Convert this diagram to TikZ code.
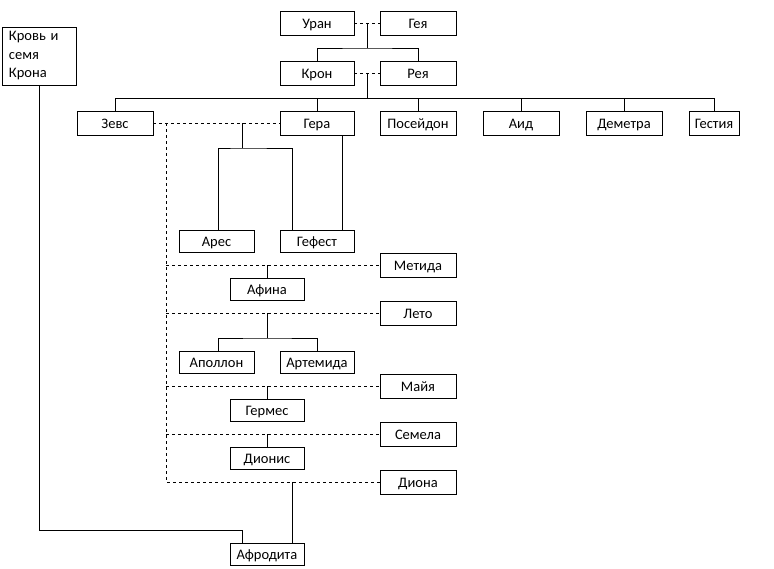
\documentclass[tikz,border=0pt]{standalone}
\usepackage{fontspec}
\setmainfont{Carlito}
\usetikzlibrary{calc}

\begin{document}
\begin{tikzpicture}[x=1pt,y=-1pt,line width=0.9pt,
  plain/.style={draw,fill=white,inner sep=0pt,minimum width=74pt,
    font=\fontsize{14.5}{18.5}\selectfont},
  box/.style={plain,minimum height=24pt,text height=10pt,text depth=0pt},
  wide/.style={box,minimum width=76pt},
  low/.style={box,minimum height=22pt},
  marriage/.style={dash pattern=on 3pt off 3pt}]
\useasboundingbox (0,0) rectangle (774,568);

% first generations
\node[box] (uran) at (317,23) {Уран};
\node[wide] (geya) at (418,23) {Гея};
\node[box] (kron) at (317,73) {Крон};
\node[wide] (reya) at (418,73) {Рея};
\node[plain,minimum height=58pt,text width=60pt,align=left] (krov) at (39,56) {Кровь и\\семя\\Крона};

% children of Kronos
\node[wide] (zevs) at (115,123) {Зевс};
\node[box] (gera) at (317,123) {Гера};
\node[wide] (posejdon) at (418,123) {Посейдон};
\node[wide] (aid) at (521,123) {Аид};
\node[wide] (demetra) at (624,123) {Деметра};
\node[box,minimum width=50pt] (gestiya) at (714,123) {Гестия};

% wives of Zeus
\node[wide] (metida) at (418,265) {Метида};
\node[wide] (leto) at (418,313) {Лето};
\node[wide] (majya) at (418,386) {Майя};
\node[wide] (semela) at (418,434) {Семела};
\node[wide] (diona) at (418,482) {Диона};

% children of Zeus
\node[low,minimum width=75pt] (ares) at (216.5,241) {Арес};
\node[low] (gefest) at (317,241) {Гефест};
\node[low] (afina) at (267,289) {Афина};
\node[low,minimum width=75pt] (apollon) at (216.5,362) {Аполлон};
\node[low] (artemida) at (317,362) {Артемида};
\node[low] (germes) at (267,410) {Гермес};
\node[low] (dionis) at (267,458) {Дионис};
\node[low] (afrodita) at (267,554.5) {Афродита};

% Uranus and Gaia
\draw[marriage] (uran) -- (geya);
\coordinate (ug) at ($(uran.east)!0.5!(geya.west)$);
\draw (ug) -- ++(0,25) coordinate (ugb);
\draw (kron.north) |- (ugb) -| (reya.north);

% Kronos and Rhea
\draw[marriage] (kron) -- (reya);
\coordinate (kr) at ($(kron.east)!0.5!(reya.west)$);
\draw (kr) -- ++(0,25) coordinate (krb);
\draw (zevs.north) |- (gestiya.north |- krb) -- (gestiya.north);
\foreach \n in {gera,posejdon,aid,demetra}
  \draw (\n.north) -- (\n.north |- krb);

% Zeus and his wives
\draw[marriage] (zevs) -- (gera);
\coordinate (zg) at ($(zevs.east)+(13,0)$);
\draw[marriage] (zg) |- (diona.west);
\foreach \n in {metida,leto,majya,semela}
  \draw[marriage] (zg |- \n.west) -- (\n.west);

% Hera
\coordinate (zgm) at (242,123);
\draw (zgm) -- ++(0,25) coordinate (ag);
\draw ([xshift=1.5pt]ares.north) |- (ag) -| ([xshift=-25pt]gefest.north);
\draw ([xshift=25pt]gera.south) -- ([xshift=25pt]gefest.north);

% Metis, Leto, Maia, Semele
\draw (afina.north) -- (afina.north |- metida.west);
\draw (afina.north |- leto.west) -- ++(0,25) coordinate (la);
\draw ([xshift=1.5pt]apollon.north) |- (la) -| (artemida.north);
\draw (germes.north) -- (germes.north |- majya.west);
\draw (dionis.north) -- (dionis.north |- semela.west);

% Dione and the blood of Kronos
\draw ([xshift=25pt]afrodita.north) -- ([xshift=25pt]afrodita.north |- diona.west);
\draw (krov.south) |- ($(afrodita.north)+(-25,-13)$) -- ([xshift=-25pt]afrodita.north);
\end{tikzpicture}
\end{document}
